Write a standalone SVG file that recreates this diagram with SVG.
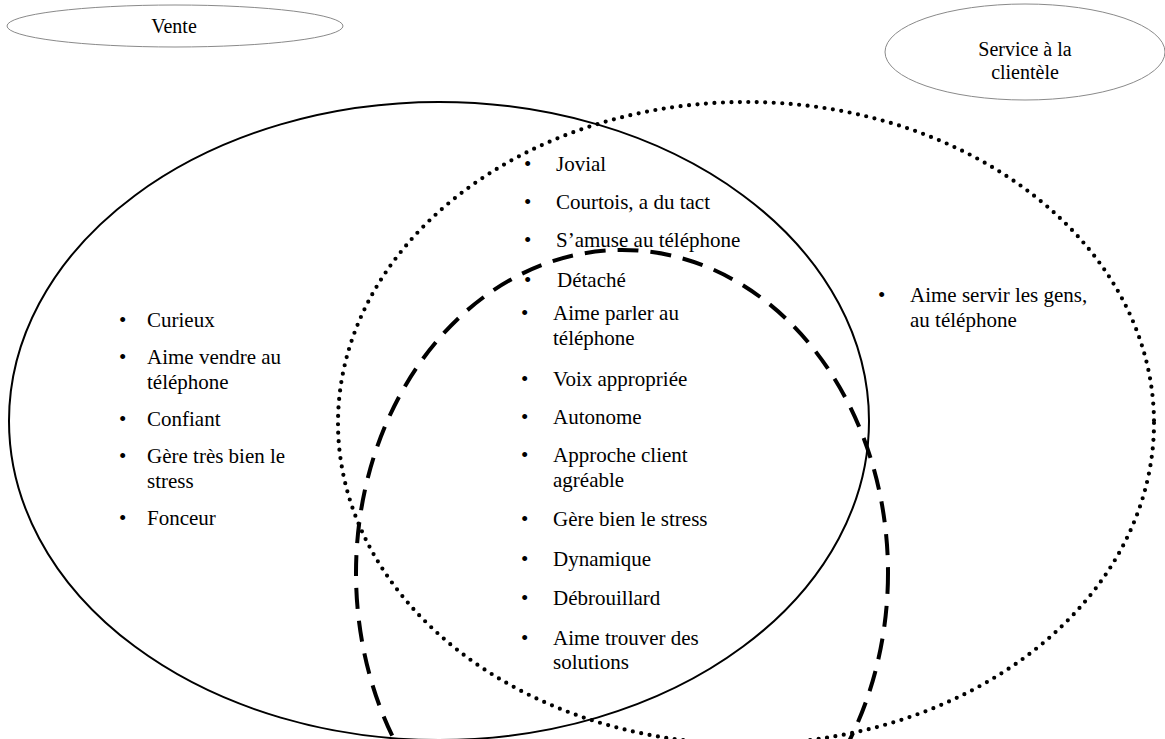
<svg xmlns="http://www.w3.org/2000/svg" width="1165" height="739" viewBox="0 0 1165 739">
<style>
text{font-family:"Liberation Serif","Times New Roman",serif;font-size:21px;fill:#000}
.lbl{text-anchor:middle;font-size:20px}
.tag{fill:#fff;stroke:#8a8a8a;stroke-width:1}
.set{fill:none;stroke:#000}
.solid{stroke-width:2}
.dot{stroke-width:4.2;stroke-dasharray:0 8.5;stroke-linecap:round}
.dash{stroke-width:4;stroke-dasharray:21 12}
</style>
<rect width="1165" height="739" fill="#fff"/>
<g id="connectors">
<ellipse class="set solid" cx="439" cy="421" rx="430" ry="319"/>
<ellipse class="set dot" cx="746" cy="423" rx="408" ry="321"/>
<ellipse class="set dash" cx="622" cy="573" rx="266" ry="323"/>
</g>
<g id="vente">
<ellipse class="tag" cx="175" cy="26" rx="168" ry="21"/>
<text class="lbl" x="174" y="33">Vente</text>
</g>
<g id="service">
<ellipse class="tag" cx="1025" cy="52" rx="140" ry="48"/>
<text class="lbl" x="1025" y="56">Service à la</text>
<text class="lbl" x="1025" y="79">clientèle</text>
</g>
<g id="vente-list">
<text x="119" y="327">•</text><text x="147" y="327">Curieux</text>
<text x="119" y="364">•</text><text x="147" y="364">Aime vendre au</text>
<text x="147" y="389">téléphone</text>
<text x="119" y="426">•</text><text x="147" y="426">Confiant</text>
<text x="119" y="463">•</text><text x="147" y="463">Gère très bien le</text>
<text x="147" y="488">stress</text>
<text x="119" y="525">•</text><text x="147" y="525">Fonceur</text>
</g>
<g id="commun-list">
<text x="524" y="171">•</text><text x="556" y="171">Jovial</text>
<text x="524" y="209">•</text><text x="556" y="209">Courtois, a du tact</text>
<text x="524" y="247">•</text><text x="556" y="247">S’amuse au téléphone</text>
<text x="524" y="287">•</text><text x="557" y="287">Détaché</text>
<text x="521" y="320">•</text><text x="553" y="320">Aime parler au</text>
<text x="553" y="345">téléphone</text>
<text x="521" y="386">•</text><text x="553" y="386">Voix appropriée</text>
<text x="521" y="424">•</text><text x="553" y="424">Autonome</text>
<text x="521" y="462">•</text><text x="553" y="462">Approche client</text>
<text x="553" y="487">agréable</text>
<text x="521" y="526">•</text><text x="553" y="526">Gère bien le stress</text>
<text x="521" y="566">•</text><text x="553" y="566">Dynamique</text>
<text x="521" y="605">•</text><text x="553" y="605">Débrouillard</text>
<text x="521" y="645">•</text><text x="553" y="645">Aime trouver des</text>
<text x="553" y="669">solutions</text>
</g>
<g id="service-list">
<text x="878" y="302">•</text><text x="910" y="302">Aime servir les gens,</text>
<text x="910" y="327">au téléphone</text>
</g>
</svg>
